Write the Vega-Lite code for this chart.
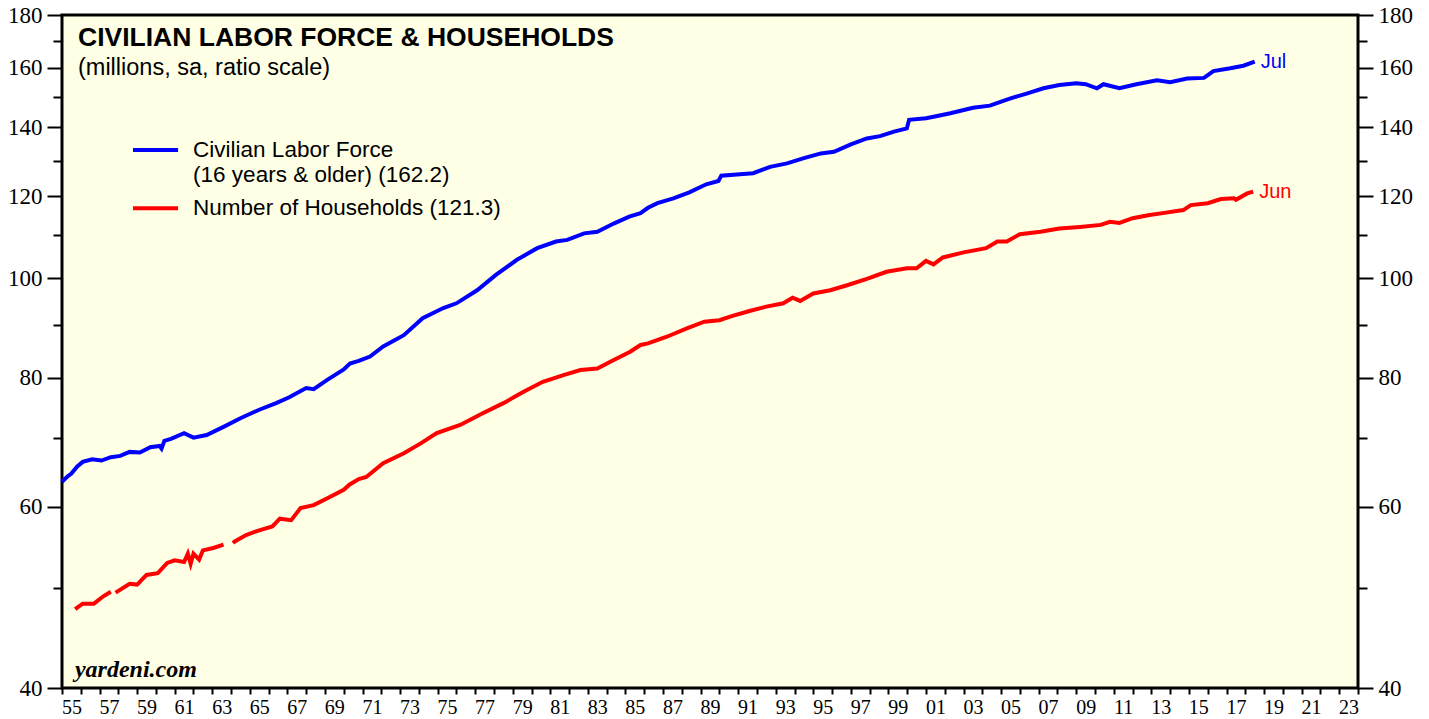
{
  "$schema": "https://vega.github.io/schema/vega-lite/v6.json",
  "width": 1296,
  "height": 673,
  "autosize": "none",
  "padding": {"left": 62, "top": 15, "right": 71, "bottom": 31},
  "background": "white",
  "config": {
    "view": {"fill": "#FFFFE6", "stroke": "black", "strokeWidth": 3},
    "font": "Liberation Sans",
    "axisX": {
      "labelOverlap": false, "labelBound": false, "labelFlush": false,
      "tickSize": 6, "tickWidth": 2, "tickColor": "black",
      "domain": false, "grid": false, "title": null,
      "labelFont": "Liberation Serif", "labelFontSize": 20, "labelColor": "black", "labelPadding": 3
    }
  },
  "title": {
    "text": "CIVILIAN LABOR FORCE & HOUSEHOLDS",
    "subtitle": "(millions, sa, ratio scale)",
    "anchor": "start", "frame": "group", "orient": "top",
    "offset": -75, "dx": 16,
    "font": "Liberation Sans", "fontSize": 26.5, "fontWeight": "bold", "color": "black",
    "subtitleFont": "Liberation Sans", "subtitleFontSize": 23.5, "subtitleColor": "black", "subtitlePadding": 4
  },
  "datasets": {
    "main": [
      {"s":"CLF","t":1955.0,"v":63.4},{"s":"CLF","t":1955.3,"v":64.2},{"s":"CLF","t":1955.5,"v":64.6},{"s":"CLF","t":1955.8,"v":65.6},
      {"s":"CLF","t":1956.1,"v":66.3},{"s":"CLF","t":1956.6,"v":66.7},{"s":"CLF","t":1957.1,"v":66.5},{"s":"CLF","t":1957.6,"v":67.0},
      {"s":"CLF","t":1958.1,"v":67.2},{"s":"CLF","t":1958.6,"v":67.8},{"s":"CLF","t":1959.15,"v":67.7},{"s":"CLF","t":1959.7,"v":68.5},
      {"s":"CLF","t":1960.2,"v":68.7},{"s":"CLF","t":1960.3,"v":68.3},{"s":"CLF","t":1960.45,"v":69.5},{"s":"CLF","t":1960.8,"v":69.8},
      {"s":"CLF","t":1961.5,"v":70.7},{"s":"CLF","t":1962.0,"v":70.0},{"s":"CLF","t":1962.7,"v":70.4},{"s":"CLF","t":1963.6,"v":71.7},
      {"s":"CLF","t":1964.5,"v":73.1},{"s":"CLF","t":1965.5,"v":74.5},{"s":"CLF","t":1966.4,"v":75.6},{"s":"CLF","t":1967.1,"v":76.6},
      {"s":"CLF","t":1968.0,"v":78.2},{"s":"CLF","t":1968.4,"v":78.0},{"s":"CLF","t":1969.1,"v":79.6},{"s":"CLF","t":1970.0,"v":81.5},
      {"s":"CLF","t":1970.33,"v":82.6},{"s":"CLF","t":1970.8,"v":83.1},{"s":"CLF","t":1971.4,"v":83.9},{"s":"CLF","t":1972.1,"v":85.8},
      {"s":"CLF","t":1973.2,"v":88.0},{"s":"CLF","t":1974.2,"v":91.4},{"s":"CLF","t":1975.3,"v":93.5},{"s":"CLF","t":1976.0,"v":94.5},
      {"s":"CLF","t":1977.1,"v":97.3},{"s":"CLF","t":1978.1,"v":100.7},{"s":"CLF","t":1979.2,"v":104.1},{"s":"CLF","t":1980.3,"v":106.9},
      {"s":"CLF","t":1981.3,"v":108.5},{"s":"CLF","t":1981.9,"v":108.9},{"s":"CLF","t":1982.8,"v":110.5},{"s":"CLF","t":1983.5,"v":110.9},
      {"s":"CLF","t":1984.4,"v":113.0},{"s":"CLF","t":1985.2,"v":114.7},{"s":"CLF","t":1985.8,"v":115.6},{"s":"CLF","t":1986.2,"v":117.0},
      {"s":"CLF","t":1986.7,"v":118.2},{"s":"CLF","t":1987.55,"v":119.5},{"s":"CLF","t":1988.4,"v":121.1},{"s":"CLF","t":1989.3,"v":123.3},
      {"s":"CLF","t":1989.95,"v":124.2},{"s":"CLF","t":1990.1,"v":125.7},{"s":"CLF","t":1991.1,"v":126.1},{"s":"CLF","t":1991.8,"v":126.4},
      {"s":"CLF","t":1992.7,"v":128.2},{"s":"CLF","t":1993.6,"v":129.2},{"s":"CLF","t":1994.5,"v":130.7},{"s":"CLF","t":1995.4,"v":132.1},
      {"s":"CLF","t":1996.1,"v":132.6},{"s":"CLF","t":1997.0,"v":134.8},{"s":"CLF","t":1997.85,"v":136.6},{"s":"CLF","t":1998.55,"v":137.3},
      {"s":"CLF","t":1999.3,"v":138.7},{"s":"CLF","t":1999.98,"v":139.7},{"s":"CLF","t":2000.1,"v":142.4},{"s":"CLF","t":2001.0,"v":142.9},
      {"s":"CLF","t":2001.4,"v":143.4},{"s":"CLF","t":2002.3,"v":144.5},{"s":"CLF","t":2003.5,"v":146.3},{"s":"CLF","t":2004.4,"v":147.0},
      {"s":"CLF","t":2005.5,"v":149.4},{"s":"CLF","t":2006.4,"v":151.1},{"s":"CLF","t":2007.25,"v":152.8},{"s":"CLF","t":2008.1,"v":153.9},
      {"s":"CLF","t":2009.0,"v":154.5},{"s":"CLF","t":2009.5,"v":154.2},{"s":"CLF","t":2010.1,"v":152.8},{"s":"CLF","t":2010.45,"v":154.2},
      {"s":"CLF","t":2011.3,"v":152.8},{"s":"CLF","t":2012.2,"v":154.2},{"s":"CLF","t":2013.3,"v":155.6},{"s":"CLF","t":2014.0,"v":154.9},
      {"s":"CLF","t":2014.9,"v":156.2},{"s":"CLF","t":2015.8,"v":156.4},{"s":"CLF","t":2016.3,"v":158.8},{"s":"CLF","t":2017.2,"v":159.8},
      {"s":"CLF","t":2017.9,"v":160.7},{"s":"CLF","t":2018.5,"v":162.2},

      {"s":"HH","t":1955.7,"v":47.7},{"s":"HH","t":1956.1,"v":48.3},{"s":"HH","t":1956.7,"v":48.3},{"s":"HH","t":1957.2,"v":49.1},
      {"s":"HH","t":1957.6,"v":49.6},{"s":"HH","t":1957.72,"v":null},{"s":"HH","t":1957.85,"v":49.5},{"s":"HH","t":1958.0,"v":49.7},
      {"s":"HH","t":1958.6,"v":50.5},{"s":"HH","t":1959.0,"v":50.4},{"s":"HH","t":1959.5,"v":51.5},{"s":"HH","t":1960.1,"v":51.7},
      {"s":"HH","t":1960.6,"v":52.9},{"s":"HH","t":1961.0,"v":53.2},{"s":"HH","t":1961.5,"v":53.0},{"s":"HH","t":1961.7,"v":54.0},
      {"s":"HH","t":1961.85,"v":52.8},{"s":"HH","t":1962.0,"v":54.0},{"s":"HH","t":1962.3,"v":53.3},{"s":"HH","t":1962.5,"v":54.4},
      {"s":"HH","t":1963.05,"v":54.7},{"s":"HH","t":1963.6,"v":55.1},{"s":"HH","t":1963.85,"v":null},{"s":"HH","t":1964.1,"v":55.3},
      {"s":"HH","t":1964.2,"v":55.5},{"s":"HH","t":1964.8,"v":56.3},{"s":"HH","t":1965.5,"v":56.9},{"s":"HH","t":1966.2,"v":57.4},
      {"s":"HH","t":1966.6,"v":58.4},{"s":"HH","t":1967.2,"v":58.2},{"s":"HH","t":1967.7,"v":59.8},{"s":"HH","t":1968.4,"v":60.2},
      {"s":"HH","t":1969.1,"v":61.1},{"s":"HH","t":1970.0,"v":62.3},{"s":"HH","t":1970.3,"v":63.0},{"s":"HH","t":1970.8,"v":63.8},
      {"s":"HH","t":1971.2,"v":64.1},{"s":"HH","t":1972.1,"v":66.1},{"s":"HH","t":1973.2,"v":67.6},{"s":"HH","t":1974.1,"v":69.1},
      {"s":"HH","t":1974.95,"v":70.7},{"s":"HH","t":1976.2,"v":72.0},{"s":"HH","t":1977.4,"v":73.9},{"s":"HH","t":1978.5,"v":75.6},
      {"s":"HH","t":1979.6,"v":77.6},{"s":"HH","t":1980.6,"v":79.3},{"s":"HH","t":1981.7,"v":80.5},{"s":"HH","t":1982.6,"v":81.4},
      {"s":"HH","t":1983.5,"v":81.7},{"s":"HH","t":1984.4,"v":83.3},{"s":"HH","t":1985.25,"v":84.8},{"s":"HH","t":1985.8,"v":86.1},
      {"s":"HH","t":1986.2,"v":86.4},{"s":"HH","t":1987.2,"v":87.7},{"s":"HH","t":1988.3,"v":89.4},{"s":"HH","t":1989.2,"v":90.7},
      {"s":"HH","t":1990.0,"v":91.0},{"s":"HH","t":1990.7,"v":91.9},{"s":"HH","t":1991.6,"v":92.9},{"s":"HH","t":1992.5,"v":93.8},
      {"s":"HH","t":1993.4,"v":94.5},{"s":"HH","t":1993.9,"v":95.7},{"s":"HH","t":1994.3,"v":95.0},{"s":"HH","t":1995.0,"v":96.6},
      {"s":"HH","t":1995.9,"v":97.3},{"s":"HH","t":1996.8,"v":98.4},{"s":"HH","t":1997.85,"v":99.8},{"s":"HH","t":1998.9,"v":101.4},
      {"s":"HH","t":1999.98,"v":102.2},{"s":"HH","t":2000.5,"v":102.2},{"s":"HH","t":2001.0,"v":103.9},{"s":"HH","t":2001.4,"v":103.1},
      {"s":"HH","t":2001.9,"v":104.7},{"s":"HH","t":2003.0,"v":105.9},{"s":"HH","t":2004.2,"v":106.9},{"s":"HH","t":2004.8,"v":108.5},
      {"s":"HH","t":2005.3,"v":108.5},{"s":"HH","t":2006.0,"v":110.3},{"s":"HH","t":2007.1,"v":110.9},{"s":"HH","t":2008.1,"v":111.7},
      {"s":"HH","t":2009.2,"v":112.1},{"s":"HH","t":2010.3,"v":112.6},{"s":"HH","t":2010.8,"v":113.4},{"s":"HH","t":2011.3,"v":113.1},
      {"s":"HH","t":2012.0,"v":114.3},{"s":"HH","t":2012.9,"v":115.1},{"s":"HH","t":2013.6,"v":115.6},{"s":"HH","t":2014.7,"v":116.4},
      {"s":"HH","t":2015.1,"v":117.7},{"s":"HH","t":2016.0,"v":118.2},{"s":"HH","t":2016.7,"v":119.3},{"s":"HH","t":2017.4,"v":119.5},
      {"s":"HH","t":2017.5,"v":119.1},{"s":"HH","t":2018.1,"v":120.8},{"s":"HH","t":2018.42,"v":121.3}
    ],
    "ends": [
      {"s":"CLF","t":2018.5,"v":162.2,"lab":"Jul"},
      {"s":"HH","t":2018.42,"v":121.3,"lab":"Jun"}
    ],
    "one": [{}]
  },
  "layer": [
    {
      "data": {"name": "main"},
      "mark": {"type": "line", "strokeWidth": 4},
      "encoding": {
        "x": {
          "field": "t", "type": "quantitative",
          "scale": {"domain": [1955, 2024], "nice": false, "zero": false},
          "axis": {
            "orient": "bottom",
            "values": [1955,1956,1957,1958,1959,1960,1961,1962,1963,1964,1965,1966,1967,1968,1969,1970,1971,1972,1973,1974,1975,1976,1977,1978,1979,1980,1981,1982,1983,1984,1985,1986,1987,1988,1989,1990,1991,1992,1993,1994,1995,1996,1997,1998,1999,2000,2001,2002,2003,2004,2005,2006,2007,2008,2009,2010,2011,2012,2013,2014,2015,2016,2017,2018,2019,2020,2021,2022,2023,2024],
            "labels": false
          }
        },
        "y": {
          "field": "v", "type": "quantitative",
          "scale": {"type": "log", "domain": [40, 180], "nice": false},
          "axis": {
            "orient": "left",
            "values": [40,50,60,70,80,90,100,110,120,130,140,150,160,170,180],
            "labelExpr": "datum.value % 20 == 0 ? datum.value : ''",
            "tickSize": {"condition": {"test": "datum.value % 20 == 0", "value": 15}, "value": 9},
            "tickWidth": 2, "tickColor": "black", "domain": false, "grid": false, "title": null,
            "labelFont": "Liberation Serif", "labelFontSize": 23, "labelColor": "black", "labelPadding": 5,
            "labelOverlap": false, "labelFlush": false
          }
        },
        "color": {"field": "s", "type": "nominal", "scale": {"domain": ["CLF", "HH"], "range": ["#0000FF", "#FF0000"]}, "legend": null}
      }
    },
    {
      "data": {"name": "ends"},
      "mark": {"type": "text", "align": "left", "baseline": "middle", "dx": 6, "fontSize": 20, "font": "Liberation Sans"},
      "encoding": {
        "x": {
          "field": "t", "type": "quantitative",
          "axis": {
            "orient": "bottom",
            "values": [1955.5,1957.5,1959.5,1961.5,1963.5,1965.5,1967.5,1969.5,1971.5,1973.5,1975.5,1977.5,1979.5,1981.5,1983.5,1985.5,1987.5,1989.5,1991.5,1993.5,1995.5,1997.5,1999.5,2001.5,2003.5,2005.5,2007.5,2009.5,2011.5,2013.5,2015.5,2017.5,2019.5,2021.5,2023.5],
            "labelExpr": "slice(toString(floor(datum.value)), 2)",
            "ticks": false, "labelOverlap": false, "labelPadding": 9
          }
        },
        "y": {
          "field": "v", "type": "quantitative",
          "axis": {
            "orient": "right",
            "values": [40,50,60,70,80,90,100,110,120,130,140,150,160,170,180],
            "labelExpr": "datum.value % 20 == 0 ? datum.value : ''",
            "tickSize": {"condition": {"test": "datum.value % 20 == 0", "value": 15}, "value": 9},
            "tickWidth": 2, "tickColor": "black", "domain": false, "grid": false, "title": null,
            "labelFont": "Liberation Serif", "labelFontSize": 23, "labelColor": "black", "labelPadding": 5,
            "labelOverlap": false, "labelFlush": false
          }
        },
        "text": {"field": "lab"},
        "color": {"field": "s", "type": "nominal", "legend": null}
      }
    },
    {
      "data": {"name": "one"},
      "mark": {"type": "rule", "strokeWidth": 4, "color": "#0000FF"},
      "encoding": {
        "x": {"datum": 1958.78, "type": "quantitative", "axis": null},
        "x2": {"datum": 1961.18},
        "y": {"datum": 133.1, "type": "quantitative", "axis": null}
      }
    },
    {
      "data": {"name": "one"},
      "mark": {"type": "rule", "strokeWidth": 4, "color": "#FF0000"},
      "encoding": {
        "x": {"datum": 1958.78, "type": "quantitative", "axis": null},
        "x2": {"datum": 1961.18},
        "y": {"datum": 116.9, "type": "quantitative", "axis": null}
      }
    },
    {
      "data": {"name": "one"},
      "mark": {"type": "text", "align": "left", "baseline": "middle", "fontSize": 22.5, "font": "Liberation Sans", "color": "black", "text": "Civilian Labor Force"},
      "encoding": {
        "x": {"datum": 1961.98, "type": "quantitative", "axis": null},
        "y": {"datum": 133.1, "type": "quantitative", "axis": null}
      }
    },
    {
      "data": {"name": "one"},
      "mark": {"type": "text", "align": "left", "baseline": "middle", "fontSize": 22.5, "font": "Liberation Sans", "color": "black", "text": "(16 years & older) (162.2)"},
      "encoding": {
        "x": {"datum": 1961.98, "type": "quantitative", "axis": null},
        "y": {"datum": 125.9, "type": "quantitative", "axis": null}
      }
    },
    {
      "data": {"name": "one"},
      "mark": {"type": "text", "align": "left", "baseline": "middle", "fontSize": 22.5, "font": "Liberation Sans", "color": "black", "text": "Number of Households (121.3)"},
      "encoding": {
        "x": {"datum": 1961.98, "type": "quantitative", "axis": null},
        "y": {"datum": 116.9, "type": "quantitative", "axis": null}
      }
    },
    {
      "data": {"name": "one"},
      "mark": {"type": "text", "align": "left", "baseline": "alphabetic", "fontSize": 24, "font": "Liberation Serif", "fontStyle": "italic", "fontWeight": "bold", "color": "black", "text": "yardeni.com"},
      "encoding": {
        "x": {"datum": 1955.69, "type": "quantitative", "axis": null},
        "y": {"datum": 41.0, "type": "quantitative", "axis": null}
      }
    }
  ],
  "resolve": {"axis": {"x": "independent", "y": "independent"}}
}
